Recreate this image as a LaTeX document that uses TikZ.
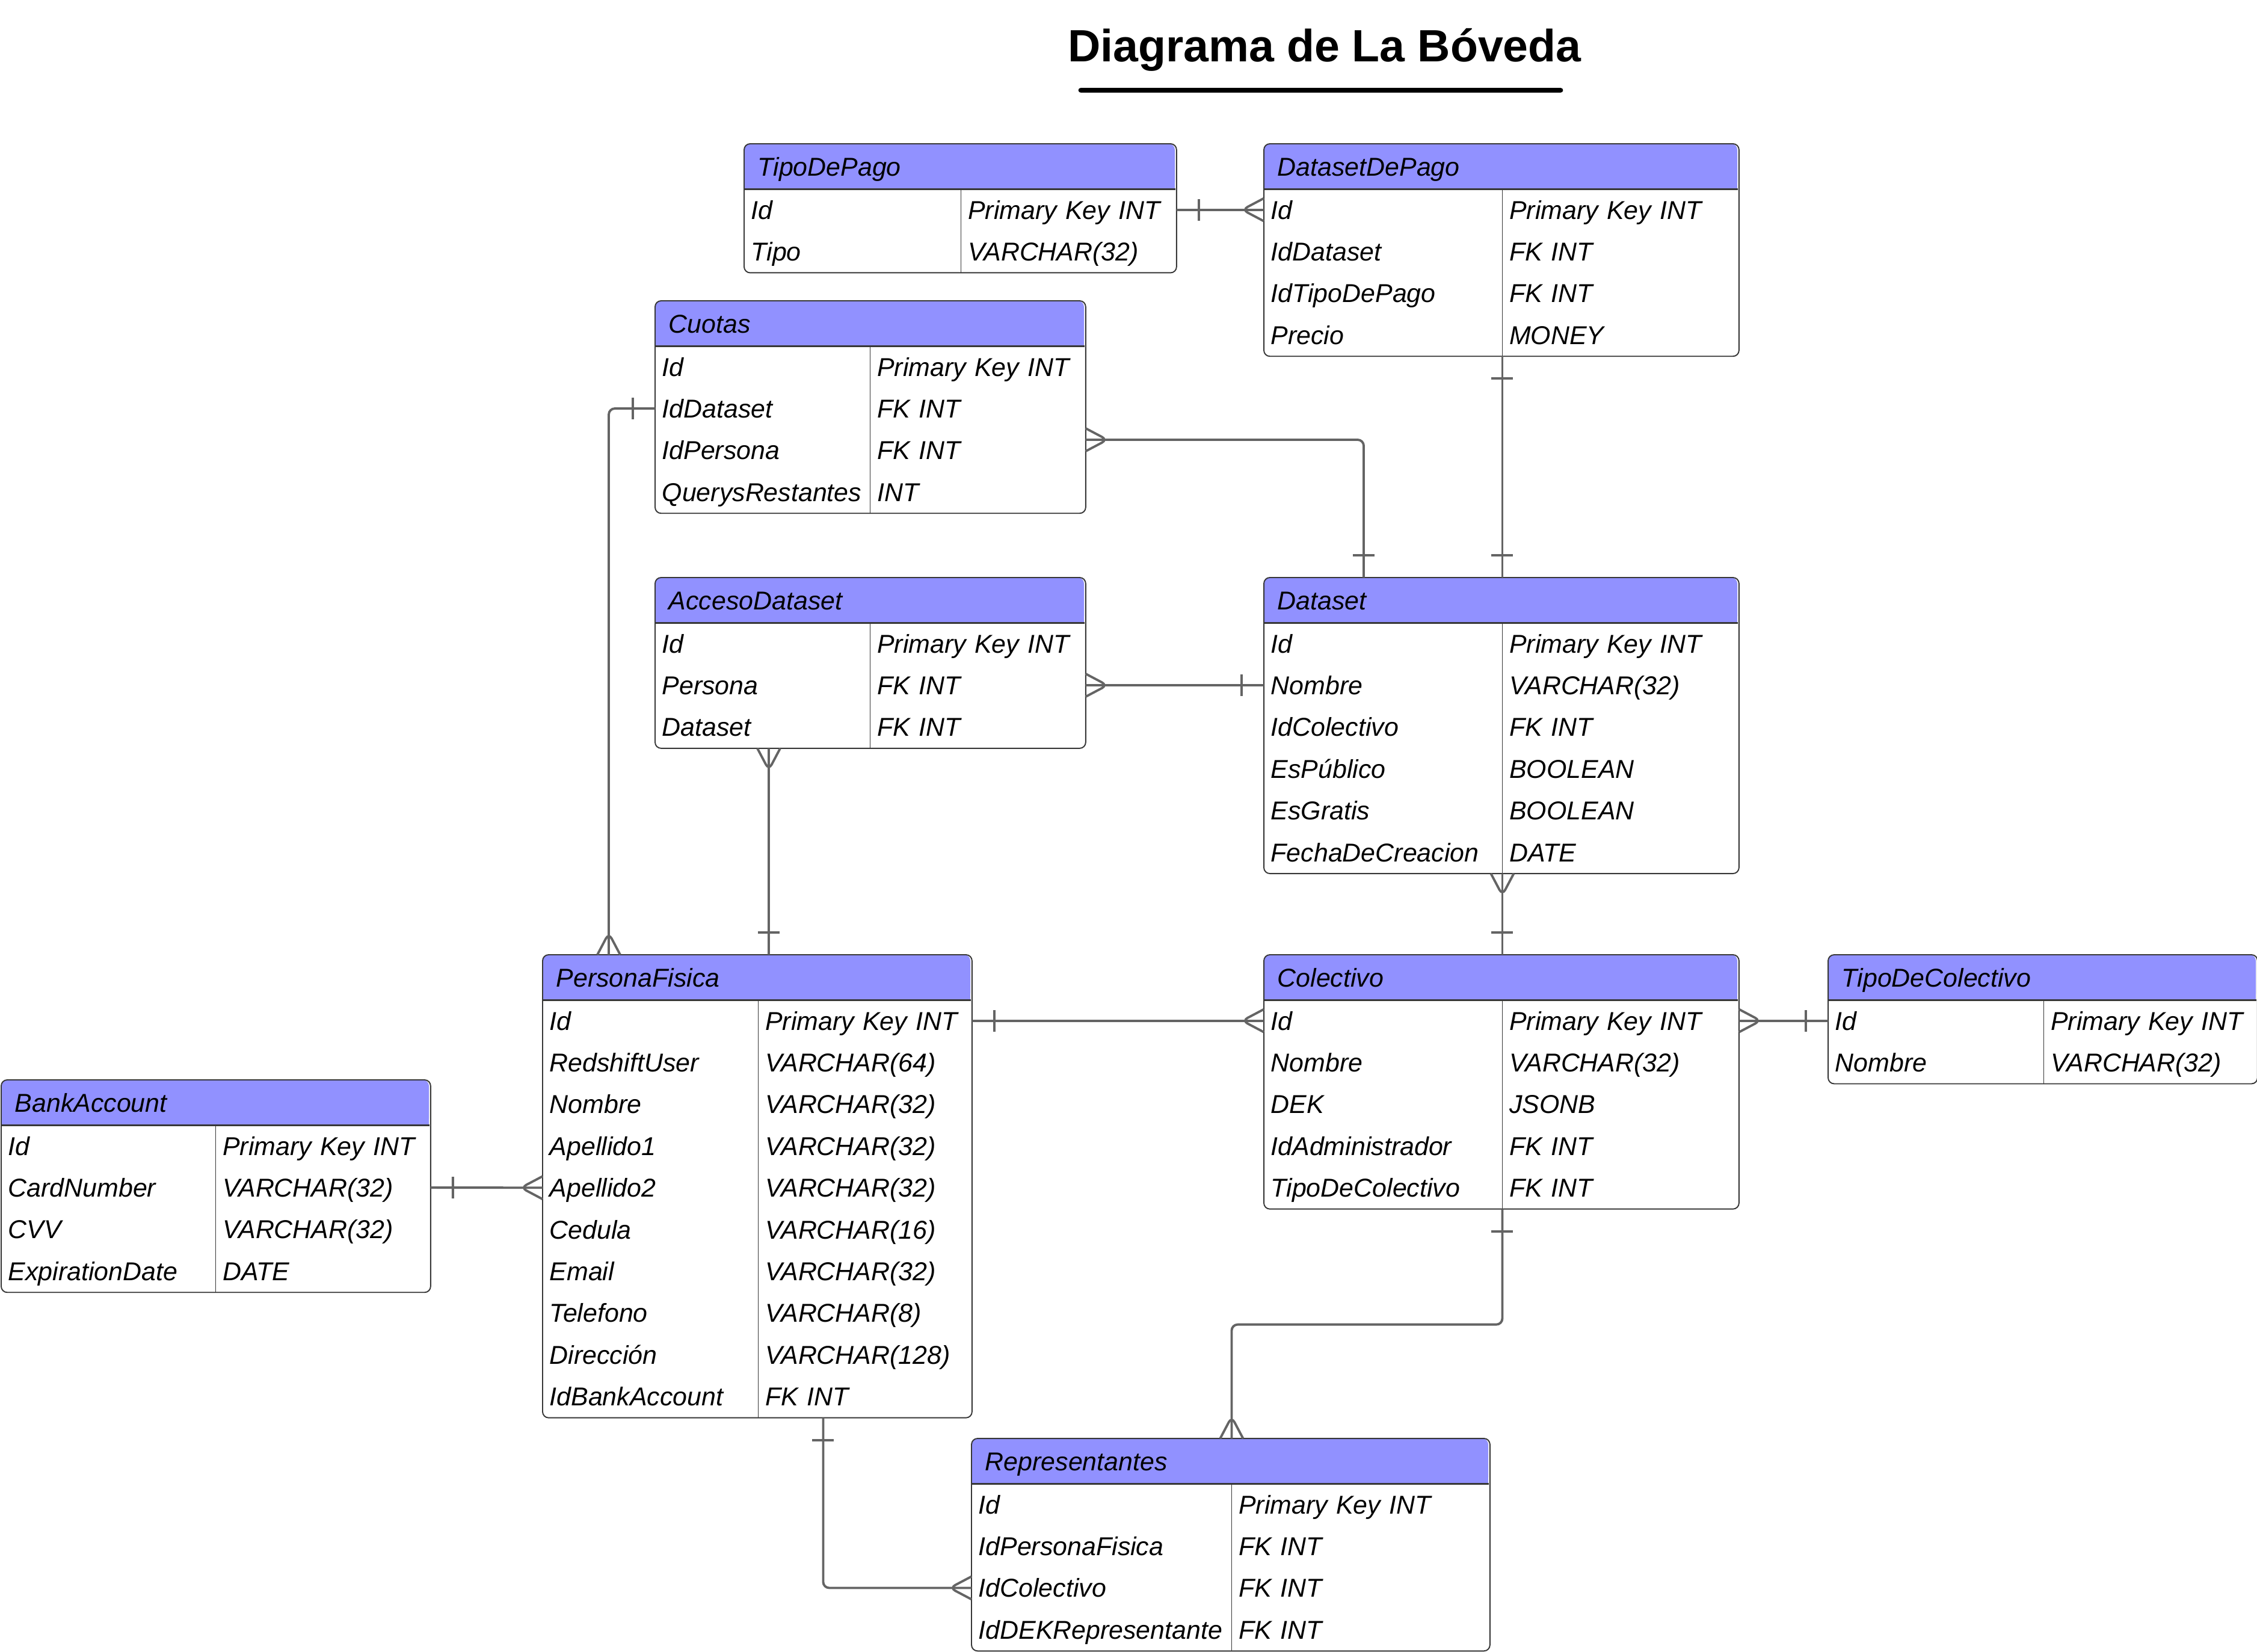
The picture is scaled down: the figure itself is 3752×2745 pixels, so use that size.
\documentclass[tikz,border=0pt]{standalone}
\usepackage{fontspec}
\setmainfont{Liberation Sans}
\usetikzlibrary{calc,decorations.markings}

\definecolor{hdrblue}{RGB}{145,145,255}
\definecolor{relgray}{RGB}{100,100,100}
\definecolor{boxgray}{RGB}{55,55,55}

\hyphenpenalty=10000
\newcommand{\cellfont}{\itshape\fontsize{12.2}{14}\selectfont}

% entity: name, title, left x, top y, width col 1, width col 2, rows
\newcommand{\entity}[7]{%
  \pgfmathsetmacro{\wall}{(#5+#6)*0.01-0.44}
  \pgfmathsetmacro{\wa}{#5*0.01-0.22}
  \pgfmathsetmacro{\wb}{#6*0.01-0.22}
  \fill[hdrblue, rounded corners=0.1cm] (#3,#4) rectangle ++(#5+#6,74.2);
  \fill[hdrblue] (#3,{#4+37}) rectangle ++(#5+#6,37.2);
  \node[hdr, text width=\wall cm] (#1) at (#3,#4) {#2};
  \foreach \fld/\typ [count=\i] in {#7} {
    \node[cell, text width=\wa cm] (#1-\i) at (#3,{#4+74.2+(\i-1)*69.4}) {\fld};
    \node[cell, text width=\wb cm] (#1-\i t) at (#1-\i.north east) {\typ};
    \xdef\nrows{\i}
  }
  \draw[boxgray, line width=0.55pt, rounded corners=0.1cm] (#1.north west) rectangle (#1-\nrows t.south east);
  \draw[boxgray, line width=0.85pt] (#1.south west) -- (#1.south east);
  \draw[boxgray, line width=0.45pt] (#1-1.north east) -- (#1-\nrows.south east);
}

\begin{document}
\begin{tikzpicture}[x=0.01cm, y=-0.01cm]
   \tikzstyle{hdr}=[anchor=north west, inner xsep=0.22cm, inner ysep=0pt, minimum height=0.742cm, text height=0.31cm, text depth=0pt, align=left, font=\cellfont]
   \tikzstyle{cell}=[anchor=north west, inner xsep=0.11cm, inner ysep=0pt, minimum height=0.694cm, text height=0.31cm, text depth=0pt, align=left, font=\cellfont]
   \tikzstyle{rel}=[draw=relgray, line width=1.1pt, rounded corners=0.1cm]
   \tikzstyle{one start}=[postaction={decorate, decoration={markings, mark=at position 0.37cm with {\draw[relgray, line width=1.1pt] (0cm,-0.18cm) -- (0cm,0.18cm);}}}]
   \tikzstyle{one end}=[postaction={decorate, decoration={markings, mark=at position -0.37cm with {\draw[relgray, line width=1.1pt] (0cm,-0.18cm) -- (0cm,0.18cm);}}}]
   \tikzstyle{many start}=[postaction={decorate, decoration={markings, mark=at position 0.36cm with {\draw[relgray, line width=1.1pt] (-0.36cm,0.19cm) -- (0cm,0cm) -- (-0.36cm,-0.19cm);}}}]
   \tikzstyle{many end}=[postaction={decorate, decoration={markings, mark=at position -0.36cm with {\draw[relgray, line width=1.1pt] (0.36cm,0.19cm) -- (0cm,0cm) -- (0.36cm,-0.19cm);}}}]

\useasboundingbox (0,0) rectangle (3752,2745);

% title
\node[anchor=base, font=\bfseries\fontsize{21.4}{24}\selectfont] (title) at (2202,102) {Diagrama de La Bóveda};
\draw[line width=2.5pt, line cap=round] (1797,150) -- (2594,150);

% tables
\entity{tp}{TipoDePago}{1237}{239}{359}{357}{Id/Primary Key INT, Tipo/VARCHAR(32)}
\entity{dp}{DatasetDePago}{2101}{239}{395}{392}{Id/Primary Key INT, IdDataset/FK INT, IdTipoDePago/FK INT, Precio/MONEY}
\entity{cu}{Cuotas}{1089}{500}{356}{357}{Id/Primary Key INT, IdDataset/FK INT, IdPersona/FK INT, QuerysRestantes/INT}
\entity{ad}{AccesoDataset}{1089}{960}{356}{357}{Id/Primary Key INT, Persona/FK INT, Dataset/FK INT}
\entity{ds}{Dataset}{2101}{960}{395}{392}{Id/Primary Key INT, Nombre/VARCHAR(32), IdColectivo/FK INT, EsPúblico/BOOLEAN, EsGratis/BOOLEAN, FechaDeCreacion/DATE}
\entity{pf}{PersonaFisica}{902}{1587}{357}{354}{Id/Primary Key INT, RedshiftUser/VARCHAR(64), Nombre/VARCHAR(32), Apellido1/VARCHAR(32), Apellido2/VARCHAR(32), Cedula/VARCHAR(16), Email/VARCHAR(32), Telefono/VARCHAR(8), Dirección/VARCHAR(128), IdBankAccount/FK INT}
\entity{co}{Colectivo}{2101}{1587}{395}{392}{Id/Primary Key INT, Nombre/VARCHAR(32), DEK/JSONB, IdAdministrador/FK INT, TipoDeColectivo/FK INT}
\entity{tc}{TipoDeColectivo}{3039}{1587}{357}{354}{Id/Primary Key INT, Nombre/VARCHAR(32)}
\entity{ba}{BankAccount}{2}{1795}{355}{356}{Id/Primary Key INT, CardNumber/VARCHAR(32), CVV/VARCHAR(32), ExpirationDate/DATE}
\entity{re}{Representantes}{1615}{2391}{431}{428}{Id/Primary Key INT, IdPersonaFisica/FK INT, IdColectivo/FK INT, IdDEKRepresentante/FK INT}

% relations
\coordinate (cuR) at ($(cu-3t.north east)+(0,18)$);
\coordinate (adB) at ($(ad-3.south west)+(189,0)$);
\coordinate (pfB) at ($(pf-10t.south west)+(108,0)$);

\draw[rel, one start, many end] (tp-1t.east) -- (dp-1.west);
\draw[rel, one start, one end] (dp-4.south east) -- (dp-4.south east |- ds.north);
\draw[rel, many start, one end] (cuR) -| ($(ds.north west)+(166,0)$);
\draw[rel, many start, one end] (ad-2t.east) -- (ds-2.west);
\draw[rel, many start, one end] (ds-6.south east) -- (ds-6.south east |- co.north);
\draw[rel, one start, many end] (cu-2.west) -| ($(pf.north west)+(110,0)$);
\draw[rel, many start, one end] (adB) -- (adB |- pf.north);
\draw[rel, one start, many end] (pf-1t.east) -- (co-1.west);
\draw[rel, many start, one end] (co-1t.east) -- (tc-1.west);
\draw[rel, one start, many end] (ba-2t.east) -- (pf-5.west);
\draw[rel, one start, many end] (co-5.south east) -- ++(0,192) -| (re-1.north east |- re.north);
\draw[rel, one start, many end] (pfB) |- (re-3.west);

\end{tikzpicture}
\end{document}
